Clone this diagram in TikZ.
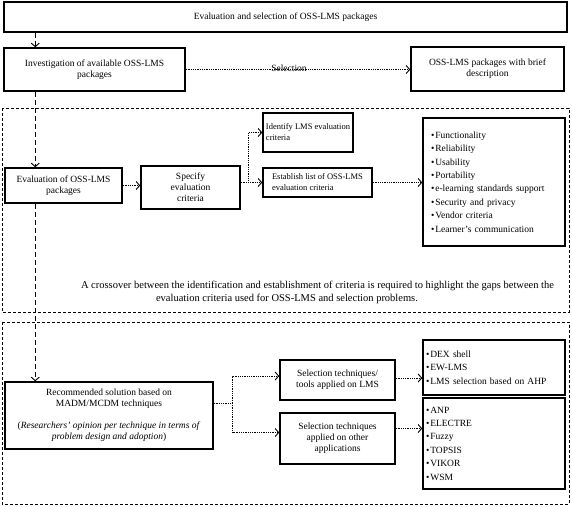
\documentclass[tikz,border=0pt]{standalone}
\usepackage{fontspec}
\setmainfont{Liberation Serif}
\usetikzlibrary{arrows.meta}
\newcommand\diagfont{\fontsize{9.5}{11}\selectfont}
\newcommand\smallboxfont{\fontsize{8.5}{11}\selectfont}
\newcommand\listfont{\fontsize{9.5}{13.4}\selectfont}
\newcommand\crossfont{\fontsize{10.5}{12.5}\selectfont}
\newcommand\itm{\textbullet\hspace{1pt}}
\begin{document}
\begin{tikzpicture}[x=1pt,y=-1pt,
  box/.style={draw, line width=1.5pt, inner sep=0pt, align=center, font=\diagfont},
  lbox/.style={draw, line width=1.5pt, inner sep=0pt, align=left, font=\smallboxfont},
  listbox/.style={draw, line width=1.5pt, inner ysep=0pt, inner xsep=0pt, align=left, font=\listfont},
  region/.style={draw, line width=0.8pt, dash pattern=on 3pt off 2pt},
  tip/.style={-{Straight Barb[length=3.5pt,width=8pt,line width=0.9pt]}},
  dashconn/.style={line width=0.9pt, dash pattern=on 5pt off 3pt, tip},
  dotconn/.style={line width=0.9pt, dash pattern=on 1pt off 0.8pt, tip},
  dotline/.style={line width=0.9pt, dash pattern=on 1pt off 0.8pt},
  txt/.style={inner sep=0pt, font=\diagfont}
]
\useasboundingbox (0,0) rectangle (572,506);

% dashed regions
\draw[region] (2,108) rectangle (569,312);
\draw[region] (2,322) rectangle (569,504);

% boxes
\node[box, minimum width=563, minimum height=30] (top) at (285.5,17) {Evaluation and selection of OSS-LMS packages};
\node[box, minimum width=181, minimum height=43] (inv) at (94.5,69.5) {Investigation of available OSS-LMS\\packages};
\node[box, minimum width=153, minimum height=44] (sel) at (487.5,69) {OSS-LMS packages with brief\\description};

\node[box, minimum width=117, minimum height=35] (eval) at (63.5,185.5) {Evaluation of OSS-LMS\\packages};
\node[box, minimum width=99, minimum height=43] (spec) at (190.5,187.5) {Specify\\evaluation\\criteria};
\node[lbox, minimum width=90, minimum height=39] (ident) at (308,132.5) {Identify LMS evaluation\\criteria};
\node[lbox, minimum width=109, minimum height=29] (estab) at (317.5,182.5) {Establish list of OSS-LMS\\evaluation criteria};
\node[listbox, text width=126, inner xsep=8pt, minimum height=128] (crit) at (494,182) {\itm Functionality\\\itm Reliability\\\itm Usability\\\itm Portability\\\itm e-learning standards support\\\itm Security and privacy\\\itm Vendor criteria\\\itm Learner's communication};

\node[inner sep=0pt, font=\crossfont] (cross1) at (317.5,286) {A crossover between the identification and establishment of criteria is required to highlight the gaps between the};
\node[inner sep=0pt, font=\crossfont] (cross2) at (287,299) {evaluation criteria used for OSS-LMS and selection problems.};

\node[box, minimum width=208, minimum height=67] (rec) at (109,415.5) {Recommended solution based on\\MADM/MCDM techniques\\[11pt](\textit{Researchers' opinion per technique in terms of}\\\textit{problem design and adoption})};
\node[box, minimum width=115, minimum height=40] (tools) at (337.5,380) {Selection techniques/\\tools applied on LMS};
\node[box, minimum width=115, minimum height=51] (other) at (337.5,438.5) {Selection techniques\\applied on other\\applications};
\node[listbox, text width=136, inner xsep=3pt, minimum height=55] (dex) at (494,367.5) {\itm DEX shell\\\itm EW-LMS\\\itm LMS selection based on AHP};
\node[listbox, text width=136, inner xsep=3pt, minimum height=91] (oth) at (494,443.5) {\itm ANP\\\itm ELECTRE\\\itm Fuzzy\\\itm TOPSIS\\\itm VIKOR\\\itm WSM};

% connectors
\draw[dashconn] ([xshift=32pt]top.south west) -- ([xshift=32pt]inv.north west);
\draw[dotconn] (inv.east) -- (inv.east -| sel.west) node[pos=0.46, anchor=base, yshift=-1.5pt, txt] (sellbl) {Selection};
\draw[dashconn] ([xshift=32pt]inv.south west) -- ([xshift=31pt]eval.north west);
\draw[dotconn] (eval.east) -- (eval.east -| spec.west);
\draw[dotconn] (spec.east |- estab.west) -- (estab.west);
\coordinate (br1) at ([xshift=8pt]spec.east |- estab.west);
\draw[dotconn] (br1) |- (ident.west);
\draw[dotconn] (estab.east) -- (estab.east -| crit.west);
\draw[dashconn] ([xshift=31pt]eval.south west) -- ([xshift=31pt]rec.north west);
\coordinate (br2) at ([xshift=19pt,yshift=12.5pt]rec.east);
\draw[dotline] ([yshift=12.5pt]rec.east) -- (br2);
\draw[dotconn] (br2) |- ([yshift=4pt]tools.west);
\draw[dotconn] (br2) |- ([yshift=6pt]other.west);
\draw[dotconn] ([yshift=2pt]tools.east) -- ([yshift=2pt]tools.east -| dex.west);
\draw[dotconn] ([yshift=10pt]other.east) -- ([yshift=10pt]other.east -| oth.west);
\end{tikzpicture}
\end{document}
